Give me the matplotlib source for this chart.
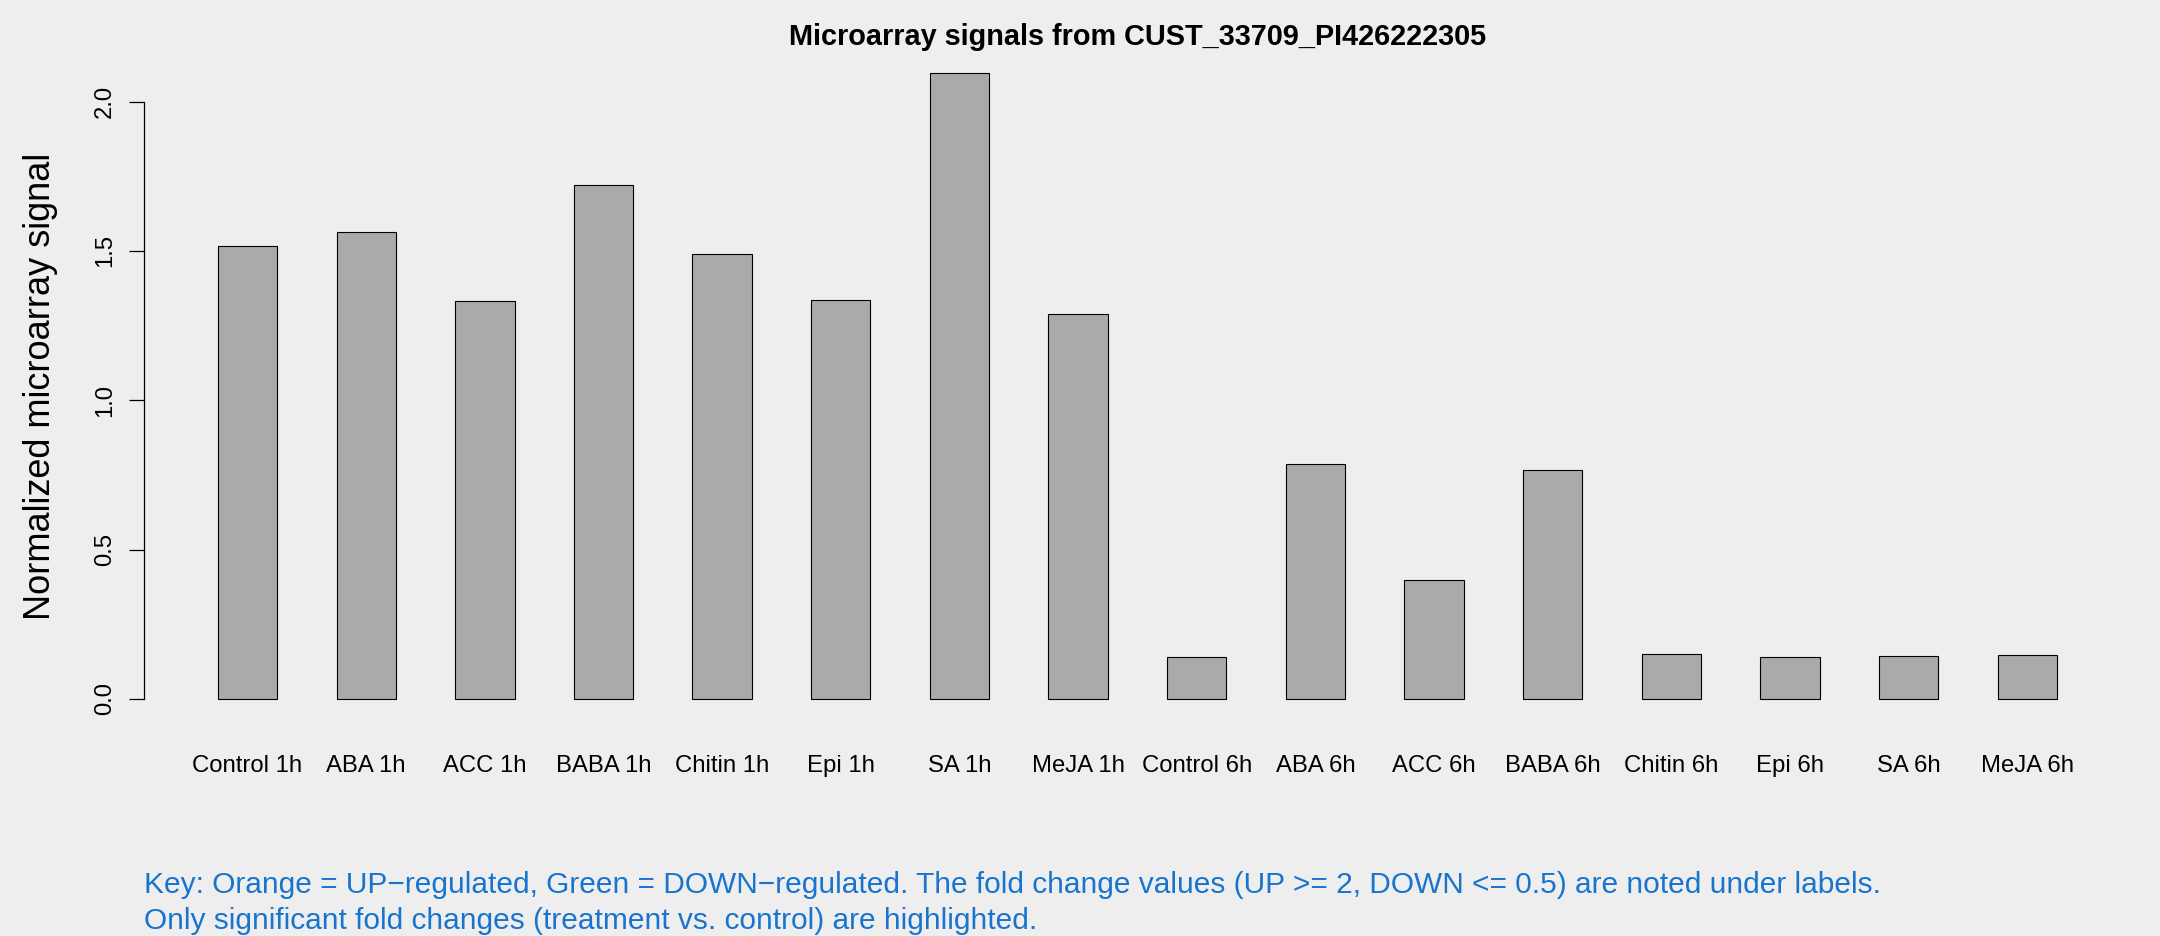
import matplotlib
matplotlib.use('Agg')
import matplotlib.pyplot as plt
import numpy as np

plt.rcParams['font.family'] = ['Liberation Sans', 'DejaVu Sans']

# ------------------------------------------------------------
# Data
# ------------------------------------------------------------
labels = ['Control 1h', 'ABA 1h', 'ACC 1h', 'BABA 1h', 'Chitin 1h', 'Epi 1h',
          'SA 1h', 'MeJA 1h', 'Control 6h', 'ABA 6h', 'ACC 6h', 'BABA 6h',
          'Chitin 6h', 'Epi 6h', 'SA 6h', 'MeJA 6h']
signal = [1.517, 1.562, 1.331, 1.722, 1.488, 1.337, 2.096, 1.290,
          0.140, 0.786, 0.397, 0.768, 0.152, 0.139, 0.143, 0.147]
y_ticks = [0.0, 0.5, 1.0, 1.5, 2.0]
y_ticklabels = ['0.0', '0.5', '1.0', '1.5', '2.0']

title = 'Microarray signals from CUST_33709_PI426222305'
ylabel = 'Normalized microarray signal'
key_lines = [
    'Key: Orange = UP\u2212regulated, Green = DOWN\u2212regulated. The fold change values '
    '(UP >= 2, DOWN <= 0.5) are noted under labels.',
    'Only significant fold changes (treatment vs. control) are highlighted.',
]

bg = '#eeeeee'
bar_color = '#aaaaaa'
key_color = '#1874cd'

# R-style barplot layout (width 1, space 1)
n = len(signal)
lefts = np.arange(n) * 2 + 1
centers = lefts + 0.5
x_lo, x_hi = 1, 2 * n
x_pad = 0.04 * (x_hi - x_lo)
y_pad = 0.04 * max(signal)

fig = plt.figure(figsize=(21.6, 9.36), dpi=100, facecolor=bg)
ax = fig.add_axes([0.0668, 0.2265, 0.9196, 0.7224])
ax.set_facecolor(bg)

ax.bar(centers, signal, width=1.0, color=bar_color, edgecolor='black', linewidth=0.8)

ax.set_xlim(x_lo - x_pad, x_hi + x_pad)
ax.set_ylim(-y_pad, max(signal) + y_pad)

for s in ['top', 'right', 'bottom']:
    ax.spines[s].set_visible(False)
ax.spines['left'].set_bounds(y_ticks[0], y_ticks[-1])
ax.spines['left'].set_linewidth(0.9)

ax.set_yticks(y_ticks)
ax.set_yticklabels(y_ticklabels, rotation=90, va='center', fontsize=17.2)
ax.tick_params(axis='y', length=10.5, width=0.9, pad=10)

ax.set_xticks(centers)
ax.set_xticklabels(labels, fontsize=17.2)
ax.tick_params(axis='x', length=0, pad=22)

# title / labels
fig.text(0.5266, 1 - 45 / 936, title, ha='center', va='baseline',
         fontsize=20.8, fontweight='bold')
fig.text(41 / 2160, 1 - 386 / 936, ylabel, rotation=90, ha='center', va='center',
         fontsize=26)

fig.text(144 / 2160, 1 - 893 / 936, key_lines[0], ha='left', va='baseline',
         fontsize=21.5, color=key_color)
fig.text(144 / 2160, 1 - 929 / 936, key_lines[1], ha='left', va='baseline',
         fontsize=21.5, color=key_color)

fig.savefig('out.png', dpi=100, facecolor=bg)
